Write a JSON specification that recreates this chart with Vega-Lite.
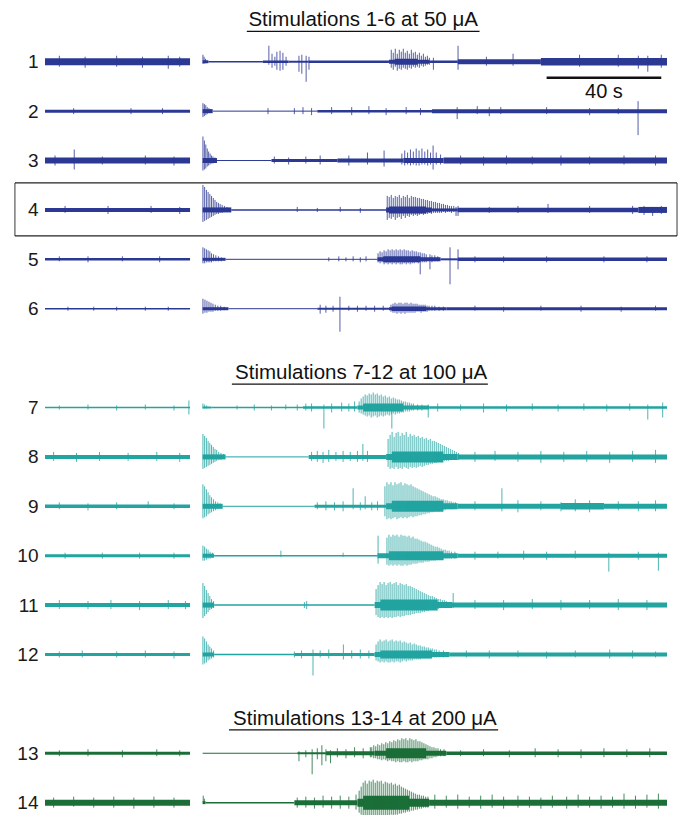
{
"$schema": "https://vega.github.io/schema/vega-lite/v6.json",
"width": 622, "height": 815,
"autosize": "none",
"padding": {"left": 45, "top": 0, "right": 11, "bottom": 0},
"background": "white",
"config": {"view": {"stroke": null}, "font": "Liberation Sans"},
"datasets": {
"noise": [
{"n":"1","t":-55,"t2":-4.4,"w":7},{"n":"1","t":0,"t2":2,"w":3},{"n":"1","t":2,"t2":21,"w":1.5},{"n":"1","t":21,"t2":30,"w":2.5},{"n":"1","t":30,"t2":37,"w":2},{"n":"1","t":37,"t2":65,"w":2.5},{"n":"1","t":65,"t2":79,"w":4},{"n":"1","t":67,"t2":75,"w":6},{"n":"1","t":79,"t2":89,"w":2.5},{"n":"1","t":89,"t2":118,"w":5},{"n":"1","t":118,"t2":162,"w":7.5},
{"n":"2","t":-55,"t2":-4.4,"w":3},{"n":"2","t":0,"t2":3.5,"w":4},{"n":"2","t":3.5,"t2":40,"w":1},{"n":"2","t":40,"t2":80,"w":2.5},{"n":"2","t":80,"t2":162,"w":4},
{"n":"3","t":-55,"t2":-4.4,"w":6},{"n":"3","t":0,"t2":5,"w":5},{"n":"3","t":5,"t2":24,"w":1},{"n":"3","t":24,"t2":47,"w":3},{"n":"3","t":47,"t2":70,"w":4},{"n":"3","t":70,"t2":84,"w":5},{"n":"3","t":84,"t2":162,"w":6},
{"n":"4","t":-55,"t2":-4.4,"w":4},{"n":"4","t":0,"t2":10,"w":5},{"n":"4","t":10,"t2":64,"w":1.5},{"n":"4","t":64,"t2":80,"w":5},{"n":"4","t":65,"t2":78,"w":7},{"n":"4","t":80,"t2":89,"w":3},{"n":"4","t":89,"t2":152,"w":4.5},{"n":"4","t":152,"t2":162,"w":6},
{"n":"5","t":-55,"t2":-4.4,"w":2.5},{"n":"5","t":0,"t2":8,"w":3},{"n":"5","t":8,"t2":61,"w":1},{"n":"5","t":61,"t2":83,"w":4},{"n":"5","t":63,"t2":76,"w":6},{"n":"5","t":83,"t2":89,"w":2},{"n":"5","t":89,"t2":162,"w":3.5},
{"n":"6","t":-55,"t2":-4.4,"w":1.5},{"n":"6","t":0,"t2":9,"w":3},{"n":"6","t":9,"t2":40,"w":1},{"n":"6","t":40,"t2":65,"w":2},{"n":"6","t":65,"t2":85,"w":3},{"n":"6","t":66,"t2":78,"w":4.5},{"n":"6","t":85,"t2":162,"w":3},
{"n":"7","t":-55,"t2":-4.4,"w":1.5},{"n":"7","t":0,"t2":3,"w":2},{"n":"7","t":3,"t2":35,"w":1.5},{"n":"7","t":35,"t2":54,"w":2.5},{"n":"7","t":54,"t2":79,"w":4},{"n":"7","t":56,"t2":70,"w":8},{"n":"7","t":79,"t2":162,"w":2.5},
{"n":"8","t":-55,"t2":-4.4,"w":4},{"n":"8","t":0,"t2":8,"w":5},{"n":"8","t":8,"t2":37,"w":1},{"n":"8","t":37,"t2":64,"w":4},{"n":"8","t":64,"t2":89,"w":6},{"n":"8","t":66,"t2":84,"w":11},{"n":"8","t":89,"t2":162,"w":5},
{"n":"9","t":-55,"t2":-4.4,"w":3.5},{"n":"9","t":0,"t2":7,"w":5},{"n":"9","t":7,"t2":39,"w":1},{"n":"9","t":39,"t2":64,"w":3},{"n":"9","t":64,"t2":89,"w":6},{"n":"9","t":66,"t2":84,"w":11},{"n":"9","t":89,"t2":125,"w":5},{"n":"9","t":125,"t2":140,"w":6.5},{"n":"9","t":140,"t2":162,"w":5},
{"n":"10","t":-55,"t2":-4.4,"w":3},{"n":"10","t":0,"t2":4,"w":4},{"n":"10","t":4,"t2":61,"w":1.5},{"n":"10","t":61,"t2":89,"w":5},{"n":"10","t":65,"t2":84,"w":9},{"n":"10","t":89,"t2":162,"w":4},
{"n":"11","t":-55,"t2":-4.4,"w":4},{"n":"11","t":0,"t2":4,"w":5},{"n":"11","t":4,"t2":60,"w":1.5},{"n":"11","t":60,"t2":87,"w":6},{"n":"11","t":62,"t2":82,"w":11},{"n":"11","t":87,"t2":162,"w":5},
{"n":"12","t":-55,"t2":-4.4,"w":3},{"n":"12","t":0,"t2":4,"w":4},{"n":"12","t":4,"t2":32,"w":1.5},{"n":"12","t":32,"t2":60,"w":3},{"n":"12","t":60,"t2":86,"w":5},{"n":"12","t":62,"t2":80,"w":8},{"n":"12","t":86,"t2":162,"w":4},
{"n":"13","t":-55,"t2":-4.4,"w":3},{"n":"13","t":0,"t2":33,"w":1},{"n":"13","t":33,"t2":43,"w":2},{"n":"13","t":43,"t2":60,"w":4},{"n":"13","t":60,"t2":85,"w":5},{"n":"13","t":64,"t2":78,"w":10},{"n":"13","t":85,"t2":162,"w":3.5},
{"n":"14","t":-55,"t2":-4.4,"w":6},{"n":"14","t":0,"t2":1,"w":3},{"n":"14","t":1,"t2":32,"w":1.5},{"n":"14","t":32,"t2":54,"w":5},{"n":"14","t":54,"t2":79,"w":8},{"n":"14","t":56,"t2":72,"w":14},{"n":"14","t":79,"t2":162,"w":6}
],
"spikes": [
{"n":"1","t":-50,"u":6,"d":5},{"n":"1","t":-41,"u":5,"d":6},{"n":"1","t":-30,"u":6,"d":5},{"n":"1","t":-21,"u":5,"d":6},{"n":"1","t":-12,"u":6,"d":7},{"n":"1","t":-8,"u":5,"d":5},
{"n":"1","t":0.1,"u":7,"d":2},{"n":"1","t":0.5,"u":5,"d":2},{"n":"1","t":1,"u":3,"d":1.5},
{"n":"1","t":23.1,"u":16,"d":3},{"n":"1","t":24.2,"u":8,"d":6},{"n":"1","t":25.2,"u":5,"d":4},{"n":"1","t":25.9,"u":10,"d":8},{"n":"1","t":27,"u":11,"d":9},{"n":"1","t":28,"u":9,"d":8},{"n":"1","t":29.1,"u":5,"d":4},
{"n":"1","t":33.6,"u":6,"d":10},{"n":"1","t":34.6,"u":7,"d":12},{"n":"1","t":36.1,"u":6,"d":20},{"n":"1","t":37.1,"u":5,"d":8},
{"n":"1","t":65.8,"u":12,"d":6},{"n":"1","t":66.5,"u":9,"d":8},{"n":"1","t":67.2,"u":13,"d":5},{"n":"1","t":67.9,"u":8,"d":9},{"n":"1","t":68.6,"u":12,"d":7},{"n":"1","t":69.3,"u":10,"d":8},{"n":"1","t":70,"u":13,"d":6},{"n":"1","t":70.7,"u":9,"d":7},{"n":"1","t":71.4,"u":11,"d":8},{"n":"1","t":72.1,"u":8,"d":6},{"n":"1","t":72.8,"u":12,"d":7},{"n":"1","t":73.5,"u":9,"d":5},{"n":"1","t":74.2,"u":10,"d":6},{"n":"1","t":74.9,"u":7,"d":5},{"n":"1","t":75.6,"u":9,"d":6},{"n":"1","t":76.3,"u":6,"d":4},{"n":"1","t":77,"u":8,"d":5},{"n":"1","t":77.7,"u":5,"d":4},{"n":"1","t":78.4,"u":6,"d":3},{"n":"1","t":79.1,"u":4,"d":3},{"n":"1","t":80.5,"u":4,"d":8},
{"n":"1","t":89.1,"u":16,"d":8},{"n":"1","t":99,"u":5,"d":4},{"n":"1","t":108.3,"u":8,"d":4},{"n":"1","t":131.5,"u":7,"d":5},{"n":"1","t":145,"u":7,"d":5},{"n":"1","t":152,"u":6,"d":7},{"n":"1","t":155.3,"u":6,"d":10},{"n":"1","t":160,"u":7,"d":6},
{"n":"2","t":-45,"u":3,"d":3},{"n":"2","t":-25,"u":3,"d":3},{"n":"2","t":-14,"u":3,"d":3},
{"n":"2","t":0.1,"u":8,"d":6},{"n":"2","t":0.6,"u":7,"d":5},{"n":"2","t":1.1,"u":6,"d":4},{"n":"2","t":1.6,"u":4,"d":3},{"n":"2","t":2.2,"u":3,"d":2},{"n":"2","t":2.8,"u":2,"d":2},
{"n":"2","t":22.8,"u":3,"d":3},{"n":"2","t":32,"u":3,"d":3},{"n":"2","t":35,"u":4,"d":3},{"n":"2","t":38,"u":3,"d":4},
{"n":"2","t":45,"u":4,"d":3},{"n":"2","t":52,"u":4,"d":4},{"n":"2","t":58,"u":5,"d":3},{"n":"2","t":64,"u":3,"d":4},{"n":"2","t":71,"u":4,"d":3},{"n":"2","t":76,"u":3,"d":4},
{"n":"2","t":88.8,"u":4,"d":8},{"n":"2","t":95.8,"u":5,"d":3},{"n":"2","t":100,"u":4,"d":5},{"n":"2","t":104,"u":4,"d":3},{"n":"2","t":120,"u":4,"d":3},{"n":"2","t":135,"u":3,"d":4},{"n":"2","t":145,"u":3,"d":3},{"n":"2","t":151.9,"u":10,"d":24},
{"n":"3","t":-51.5,"u":5,"d":5},{"n":"3","t":-44.8,"u":11,"d":9},{"n":"3","t":-35,"u":4,"d":4},{"n":"3","t":-20,"u":5,"d":4},{"n":"3","t":-10,"u":4,"d":5},
{"n":"3","t":0.1,"u":24,"d":10},{"n":"3","t":0.6,"u":20,"d":9},{"n":"3","t":1.1,"u":16,"d":8},{"n":"3","t":1.6,"u":12,"d":6},{"n":"3","t":2.1,"u":9,"d":5},{"n":"3","t":2.6,"u":7,"d":4},{"n":"3","t":3.1,"u":5,"d":3},{"n":"3","t":3.6,"u":4,"d":3},{"n":"3","t":4.3,"u":3,"d":2},
{"n":"3","t":25,"u":4,"d":3},{"n":"3","t":30,"u":3,"d":4},{"n":"3","t":36,"u":4,"d":3},{"n":"3","t":41,"u":5,"d":4},
{"n":"3","t":51,"u":5,"d":5},{"n":"3","t":57.5,"u":8,"d":4},{"n":"3","t":63.3,"u":10,"d":6},
{"n":"3","t":69.5,"u":7,"d":4},{"n":"3","t":70.5,"u":10,"d":5},{"n":"3","t":71.5,"u":8,"d":4},{"n":"3","t":72.5,"u":11,"d":5},{"n":"3","t":73.5,"u":9,"d":4},{"n":"3","t":74.5,"u":12,"d":5},{"n":"3","t":75.5,"u":10,"d":5},{"n":"3","t":76.5,"u":12,"d":4},{"n":"3","t":77.5,"u":9,"d":4},{"n":"3","t":78.5,"u":11,"d":5},{"n":"3","t":79.5,"u":8,"d":4},{"n":"3","t":80.4,"u":15,"d":9},{"n":"3","t":81.5,"u":8,"d":4},{"n":"3","t":83,"u":6,"d":4},
{"n":"3","t":90,"u":5,"d":4},{"n":"3","t":98,"u":4,"d":5},{"n":"3","t":106,"u":5,"d":4},{"n":"3","t":115,"u":4,"d":4},{"n":"3","t":125,"u":5,"d":5},{"n":"3","t":135,"u":4,"d":4},{"n":"3","t":147,"u":5,"d":4},{"n":"3","t":158,"u":5,"d":5},
{"n":"4","t":-48,"u":4,"d":3},{"n":"4","t":-33,"u":4,"d":4},{"n":"4","t":-18,"u":4,"d":3},{"n":"4","t":-8,"u":3,"d":4},
{"n":"4","t":0.1,"u":25,"d":12},{"n":"4","t":0.7,"u":23,"d":11},{"n":"4","t":1.3,"u":20,"d":10},{"n":"4","t":1.9,"u":18,"d":9},{"n":"4","t":2.5,"u":16,"d":8},{"n":"4","t":3.1,"u":14,"d":7},{"n":"4","t":3.7,"u":12,"d":6},{"n":"4","t":4.3,"u":10,"d":5},{"n":"4","t":4.9,"u":8,"d":4},{"n":"4","t":5.5,"u":7,"d":4},{"n":"4","t":6.1,"u":6,"d":3},{"n":"4","t":6.8,"u":5,"d":3},{"n":"4","t":7.6,"u":4,"d":2},{"n":"4","t":8.5,"u":3,"d":2},{"n":"4","t":9.5,"u":2,"d":2},
{"n":"4","t":33,"u":3,"d":2},{"n":"4","t":40,"u":2,"d":2},{"n":"4","t":48,"u":3,"d":2},{"n":"4","t":55,"u":2,"d":3},
{"n":"4","t":64.4,"u":14,"d":10},{"n":"4","t":65.1,"u":13,"d":8},{"n":"4","t":65.8,"u":15,"d":9},{"n":"4","t":66.5,"u":12,"d":7},{"n":"4","t":67.2,"u":14,"d":10},{"n":"4","t":67.9,"u":13,"d":8},{"n":"4","t":68.6,"u":15,"d":7},{"n":"4","t":69.3,"u":12,"d":9},{"n":"4","t":70,"u":14,"d":6},{"n":"4","t":70.7,"u":13,"d":8},{"n":"4","t":71.4,"u":15,"d":6},{"n":"4","t":72.1,"u":12,"d":7},{"n":"4","t":72.8,"u":14,"d":5},{"n":"4","t":73.5,"u":13,"d":6},{"n":"4","t":74.2,"u":13,"d":5},{"n":"4","t":74.9,"u":12,"d":6},{"n":"4","t":75.6,"u":12,"d":5},{"n":"4","t":76.3,"u":11,"d":4},{"n":"4","t":77,"u":11,"d":5},{"n":"4","t":77.7,"u":10,"d":4},{"n":"4","t":78.4,"u":10,"d":4},{"n":"4","t":79.1,"u":9,"d":3},{"n":"4","t":79.8,"u":9,"d":4},{"n":"4","t":80.5,"u":8,"d":3},{"n":"4","t":81.2,"u":8,"d":3},{"n":"4","t":81.9,"u":7,"d":3},{"n":"4","t":82.6,"u":7,"d":3},{"n":"4","t":83.3,"u":6,"d":3},{"n":"4","t":84,"u":6,"d":2},{"n":"4","t":84.7,"u":5,"d":3},{"n":"4","t":85.4,"u":5,"d":2},{"n":"4","t":86.1,"u":4,"d":2},{"n":"4","t":86.8,"u":4,"d":3},{"n":"4","t":87.6,"u":4,"d":2},{"n":"4","t":88.4,"u":3,"d":6},{"n":"4","t":89.1,"u":4,"d":6},
{"n":"4","t":100,"u":3,"d":3},{"n":"4","t":110,"u":4,"d":3},{"n":"4","t":120.5,"u":6,"d":3},{"n":"4","t":135,"u":4,"d":3},{"n":"4","t":150,"u":4,"d":4},{"n":"4","t":154,"u":4,"d":5},{"n":"4","t":157,"u":3,"d":6},{"n":"4","t":160,"u":4,"d":4},
{"n":"5","t":-50,"u":3,"d":2},{"n":"5","t":-40,"u":3,"d":3},{"n":"5","t":-28,"u":3,"d":2},{"n":"5","t":-15,"u":3,"d":3},
{"n":"5","t":0.1,"u":12,"d":4},{"n":"5","t":0.7,"u":11,"d":4},{"n":"5","t":1.3,"u":10,"d":3},{"n":"5","t":1.9,"u":9,"d":3},{"n":"5","t":2.5,"u":8,"d":3},{"n":"5","t":3.1,"u":6,"d":3},{"n":"5","t":3.8,"u":5,"d":2},{"n":"5","t":4.6,"u":4,"d":2},{"n":"5","t":5.5,"u":3,"d":2},{"n":"5","t":6.5,"u":2,"d":2},
{"n":"5","t":44,"u":2,"d":2},{"n":"5","t":47.5,"u":3,"d":2},{"n":"5","t":50,"u":2,"d":2},{"n":"5","t":52.5,"u":3,"d":2},{"n":"5","t":55,"u":2,"d":3},{"n":"5","t":57,"u":3,"d":2},
{"n":"5","t":61.2,"u":6,"d":3},{"n":"5","t":61.9,"u":8,"d":4},{"n":"5","t":62.6,"u":7,"d":3},{"n":"5","t":63.3,"u":9,"d":5},{"n":"5","t":64,"u":8,"d":4},{"n":"5","t":64.7,"u":10,"d":5},{"n":"5","t":65.4,"u":9,"d":4},{"n":"5","t":66.1,"u":10,"d":5},{"n":"5","t":66.8,"u":9,"d":4},{"n":"5","t":67.5,"u":10,"d":5},{"n":"5","t":68.2,"u":9,"d":4},{"n":"5","t":68.9,"u":10,"d":5},{"n":"5","t":69.6,"u":9,"d":5},{"n":"5","t":70.3,"u":10,"d":4},{"n":"5","t":71,"u":9,"d":5},{"n":"5","t":71.7,"u":9,"d":4},{"n":"5","t":72.4,"u":8,"d":5},{"n":"5","t":73.1,"u":9,"d":4},{"n":"5","t":73.8,"u":8,"d":4},{"n":"5","t":74.5,"u":8,"d":3},{"n":"5","t":75.2,"u":7,"d":4},{"n":"5","t":75.9,"u":7,"d":15},{"n":"5","t":76.6,"u":6,"d":3},{"n":"5","t":77.3,"u":6,"d":3},{"n":"5","t":78,"u":5,"d":3},{"n":"5","t":79.3,"u":5,"d":10},{"n":"5","t":80,"u":4,"d":3},{"n":"5","t":81,"u":4,"d":2},{"n":"5","t":82,"u":3,"d":2},
{"n":"5","t":86.3,"u":12,"d":25},{"n":"5","t":89.1,"u":10,"d":10},
{"n":"5","t":95,"u":3,"d":3},{"n":"5","t":105,"u":3,"d":3},{"n":"5","t":120,"u":3,"d":3},{"n":"5","t":140,"u":3,"d":3},{"n":"5","t":155,"u":3,"d":3},
{"n":"6","t":-47,"u":2,"d":2},{"n":"6","t":-38,"u":2,"d":2},{"n":"6","t":-30,"u":2,"d":2},{"n":"6","t":-20,"u":2,"d":2},{"n":"6","t":-12,"u":2,"d":2},
{"n":"6","t":0.1,"u":10,"d":5},{"n":"6","t":0.8,"u":9,"d":4},{"n":"6","t":1.5,"u":8,"d":4},{"n":"6","t":2.2,"u":7,"d":3},{"n":"6","t":2.9,"u":6,"d":3},{"n":"6","t":3.6,"u":5,"d":3},{"n":"6","t":4.4,"u":4,"d":2},{"n":"6","t":5.3,"u":3,"d":2},{"n":"6","t":6.3,"u":3,"d":2},{"n":"6","t":7.5,"u":2,"d":1.5},
{"n":"6","t":41,"u":4,"d":5},{"n":"6","t":43,"u":3,"d":4},{"n":"6","t":45.5,"u":3,"d":3},{"n":"6","t":47.9,"u":12,"d":23},
{"n":"6","t":51,"u":3,"d":2},{"n":"6","t":54,"u":3,"d":3},{"n":"6","t":57,"u":3,"d":2},{"n":"6","t":60,"u":3,"d":3},{"n":"6","t":63,"u":3,"d":2},
{"n":"6","t":65.7,"u":4,"d":3},{"n":"6","t":66.4,"u":5,"d":4},{"n":"6","t":67.1,"u":6,"d":4},{"n":"6","t":67.8,"u":5,"d":5},{"n":"6","t":68.5,"u":6,"d":4},{"n":"6","t":69.2,"u":6,"d":5},{"n":"6","t":69.9,"u":5,"d":4},{"n":"6","t":70.6,"u":6,"d":5},{"n":"6","t":71.3,"u":6,"d":4},{"n":"6","t":72,"u":5,"d":4},{"n":"6","t":72.7,"u":6,"d":4},{"n":"6","t":73.4,"u":5,"d":4},{"n":"6","t":74.1,"u":5,"d":4},{"n":"6","t":74.8,"u":5,"d":3},{"n":"6","t":75.5,"u":4,"d":3},{"n":"6","t":76.2,"u":4,"d":4},{"n":"6","t":76.9,"u":4,"d":3},{"n":"6","t":77.6,"u":4,"d":3},{"n":"6","t":78.3,"u":3,"d":3},{"n":"6","t":79,"u":3,"d":2},{"n":"6","t":80,"u":3,"d":2},{"n":"6","t":81,"u":3,"d":2},{"n":"6","t":82.5,"u":2,"d":2},{"n":"6","t":84,"u":2,"d":2},
{"n":"6","t":95,"u":3,"d":2},{"n":"6","t":105,"u":2,"d":3},{"n":"6","t":118,"u":3,"d":2},{"n":"6","t":132,"u":3,"d":3},{"n":"6","t":146,"u":2,"d":3},{"n":"6","t":158,"u":3,"d":2},
{"n":"7","t":-50,"u":2,"d":2},{"n":"7","t":-40,"u":3,"d":2},{"n":"7","t":-30,"u":2,"d":3},{"n":"7","t":-20,"u":3,"d":2},{"n":"7","t":-10,"u":2,"d":3},{"n":"7","t":-4.8,"u":7,"d":7},
{"n":"7","t":0.1,"u":4,"d":1},{"n":"7","t":0.7,"u":3,"d":1},{"n":"7","t":1.4,"u":2,"d":1},
{"n":"7","t":12,"u":2,"d":2},{"n":"7","t":18,"u":3,"d":3},{"n":"7","t":24,"u":2,"d":3},{"n":"7","t":29,"u":3,"d":2},{"n":"7","t":33,"u":3,"d":3},
{"n":"7","t":36,"u":4,"d":3},{"n":"7","t":38,"u":4,"d":4},{"n":"7","t":42.3,"u":3,"d":21},{"n":"7","t":45,"u":4,"d":5},{"n":"7","t":48.5,"u":5,"d":4},{"n":"7","t":51,"u":4,"d":4},{"n":"7","t":53,"u":6,"d":4},
{"n":"7","t":54.6,"u":6,"d":5},{"n":"7","t":55.3,"u":9,"d":6},{"n":"7","t":56,"u":11,"d":7},{"n":"7","t":56.7,"u":13,"d":8},{"n":"7","t":57.4,"u":12,"d":9},{"n":"7","t":58.1,"u":14,"d":8},{"n":"7","t":58.8,"u":13,"d":10},{"n":"7","t":59.5,"u":15,"d":9},{"n":"7","t":60.2,"u":13,"d":8},{"n":"7","t":60.9,"u":14,"d":10},{"n":"7","t":61.6,"u":12,"d":9},{"n":"7","t":62.3,"u":13,"d":8},{"n":"7","t":63,"u":11,"d":9},{"n":"7","t":63.7,"u":12,"d":8},{"n":"7","t":64.4,"u":10,"d":7},{"n":"7","t":65.1,"u":11,"d":8},{"n":"7","t":65.8,"u":9,"d":7},{"n":"7","t":66,"u":3,"d":21},{"n":"7","t":66.5,"u":10,"d":6},{"n":"7","t":67.2,"u":9,"d":7},{"n":"7","t":67.9,"u":8,"d":6},{"n":"7","t":68.6,"u":8,"d":6},{"n":"7","t":69.3,"u":7,"d":5},{"n":"7","t":70,"u":6,"d":5},{"n":"7","t":70.7,"u":6,"d":4},{"n":"7","t":71.4,"u":5,"d":4},{"n":"7","t":72.1,"u":5,"d":4},{"n":"7","t":72.8,"u":4,"d":3},{"n":"7","t":73.5,"u":4,"d":3},{"n":"7","t":75,"u":3,"d":3},{"n":"7","t":76.5,"u":3,"d":3},{"n":"7","t":78.7,"u":3,"d":10},
{"n":"7","t":82,"u":4,"d":4},{"n":"7","t":90,"u":3,"d":3},{"n":"7","t":98,"u":4,"d":5},{"n":"7","t":106,"u":3,"d":4},{"n":"7","t":115,"u":4,"d":3},{"n":"7","t":124,"u":3,"d":4},{"n":"7","t":133,"u":4,"d":3},{"n":"7","t":141,"u":3,"d":4},{"n":"7","t":149,"u":4,"d":3},{"n":"7","t":155.3,"u":3,"d":12},{"n":"7","t":160.5,"u":5,"d":10},
{"n":"8","t":-52,"u":5,"d":4},{"n":"8","t":-44,"u":4,"d":5},{"n":"8","t":-36,"u":5,"d":4},{"n":"8","t":-26,"u":4,"d":4},{"n":"8","t":-16,"u":5,"d":4},{"n":"8","t":-8,"u":4,"d":5},
{"n":"8","t":0.1,"u":23,"d":12},{"n":"8","t":0.7,"u":21,"d":11},{"n":"8","t":1.3,"u":19,"d":10},{"n":"8","t":1.9,"u":16,"d":9},{"n":"8","t":2.5,"u":14,"d":8},{"n":"8","t":3.1,"u":12,"d":7},{"n":"8","t":3.7,"u":10,"d":6},{"n":"8","t":4.3,"u":8,"d":5},{"n":"8","t":4.9,"u":7,"d":4},{"n":"8","t":5.6,"u":5,"d":3},{"n":"8","t":6.4,"u":4,"d":3},{"n":"8","t":7.3,"u":3,"d":2},
{"n":"8","t":38,"u":5,"d":4},{"n":"8","t":40,"u":6,"d":5},{"n":"8","t":42,"u":5,"d":6},{"n":"8","t":44,"u":7,"d":5},{"n":"8","t":46.5,"u":5,"d":4},{"n":"8","t":49,"u":6,"d":5},{"n":"8","t":51.5,"u":5,"d":4},{"n":"8","t":54,"u":6,"d":5},{"n":"8","t":55.9,"u":13,"d":4},{"n":"8","t":57.5,"u":6,"d":5},
{"n":"8","t":64.7,"u":18,"d":10},{"n":"8","t":65.4,"u":22,"d":12},{"n":"8","t":66.1,"u":25,"d":11},{"n":"8","t":66.8,"u":20,"d":12},{"n":"8","t":67.5,"u":24,"d":10},{"n":"8","t":68.2,"u":25,"d":12},{"n":"8","t":68.9,"u":21,"d":11},{"n":"8","t":69.6,"u":24,"d":12},{"n":"8","t":70.3,"u":22,"d":10},{"n":"8","t":71,"u":25,"d":11},{"n":"8","t":71.7,"u":20,"d":12},{"n":"8","t":72.4,"u":23,"d":10},{"n":"8","t":73.1,"u":21,"d":11},{"n":"8","t":73.8,"u":22,"d":10},{"n":"8","t":74.5,"u":20,"d":11},{"n":"8","t":75.2,"u":21,"d":10},{"n":"8","t":75.9,"u":19,"d":9},{"n":"8","t":76.6,"u":20,"d":10},{"n":"8","t":77.3,"u":18,"d":9},{"n":"8","t":78,"u":19,"d":8},{"n":"8","t":78.7,"u":17,"d":8},{"n":"8","t":79.4,"u":18,"d":7},{"n":"8","t":80.1,"u":16,"d":7},{"n":"8","t":80.8,"u":16,"d":6},{"n":"8","t":81.5,"u":15,"d":6},{"n":"8","t":82.2,"u":14,"d":5},{"n":"8","t":82.9,"u":13,"d":5},{"n":"8","t":83.6,"u":12,"d":5},{"n":"8","t":84.3,"u":11,"d":4},{"n":"8","t":85,"u":10,"d":4},{"n":"8","t":85.7,"u":9,"d":4},{"n":"8","t":86.4,"u":8,"d":3},{"n":"8","t":87.1,"u":7,"d":3},{"n":"8","t":87.8,"u":6,"d":3},{"n":"8","t":88.5,"u":5,"d":3},{"n":"8","t":89.3,"u":4,"d":3},
{"n":"8","t":95,"u":5,"d":5},{"n":"8","t":102,"u":6,"d":4},{"n":"8","t":110,"u":5,"d":5},{"n":"8","t":118,"u":6,"d":6},{"n":"8","t":126,"u":5,"d":5},{"n":"8","t":134,"u":6,"d":5},{"n":"8","t":142,"u":5,"d":6},{"n":"8","t":150,"u":6,"d":5},{"n":"8","t":158,"u":7,"d":6},
{"n":"9","t":-50,"u":4,"d":3},{"n":"9","t":-40,"u":3,"d":4},{"n":"9","t":-30,"u":4,"d":3},{"n":"9","t":-19,"u":5,"d":2},{"n":"9","t":-10,"u":3,"d":3},
{"n":"9","t":0.1,"u":22,"d":12},{"n":"9","t":0.7,"u":20,"d":11},{"n":"9","t":1.3,"u":17,"d":10},{"n":"9","t":1.9,"u":14,"d":8},{"n":"9","t":2.5,"u":11,"d":7},{"n":"9","t":3.1,"u":9,"d":6},{"n":"9","t":3.8,"u":7,"d":5},{"n":"9","t":4.5,"u":5,"d":4},{"n":"9","t":5.3,"u":4,"d":3},{"n":"9","t":6.1,"u":3,"d":2},
{"n":"9","t":40,"u":4,"d":3},{"n":"9","t":43,"u":5,"d":4},{"n":"9","t":46,"u":4,"d":4},{"n":"9","t":49,"u":5,"d":5},{"n":"9","t":52.5,"u":18,"d":3},{"n":"9","t":55,"u":4,"d":4},{"n":"9","t":56.7,"u":10,"d":3},{"n":"9","t":59,"u":4,"d":4},{"n":"9","t":61,"u":5,"d":4},
{"n":"9","t":63.6,"u":20,"d":10},{"n":"9","t":64.3,"u":24,"d":13},{"n":"9","t":65,"u":22,"d":12},{"n":"9","t":65.7,"u":24,"d":13},{"n":"9","t":66.4,"u":21,"d":12},{"n":"9","t":67.1,"u":24,"d":11},{"n":"9","t":67.8,"u":22,"d":13},{"n":"9","t":68.5,"u":23,"d":12},{"n":"9","t":69.2,"u":24,"d":11},{"n":"9","t":69.9,"u":21,"d":12},{"n":"9","t":70.6,"u":23,"d":11},{"n":"9","t":71.3,"u":22,"d":12},{"n":"9","t":72,"u":21,"d":11},{"n":"9","t":72.7,"u":22,"d":10},{"n":"9","t":73.4,"u":20,"d":11},{"n":"9","t":74.1,"u":19,"d":10},{"n":"9","t":74.8,"u":18,"d":10},{"n":"9","t":75.5,"u":17,"d":9},{"n":"9","t":76.2,"u":16,"d":9},{"n":"9","t":76.9,"u":15,"d":8},{"n":"9","t":77.6,"u":14,"d":8},{"n":"9","t":78.3,"u":13,"d":7},{"n":"9","t":79,"u":12,"d":7},{"n":"9","t":79.7,"u":11,"d":6},{"n":"9","t":80.4,"u":10,"d":6},{"n":"9","t":81.1,"u":10,"d":5},{"n":"9","t":81.8,"u":9,"d":5},{"n":"9","t":82.5,"u":8,"d":5},{"n":"9","t":83.2,"u":7,"d":4},{"n":"9","t":83.9,"u":7,"d":4},{"n":"9","t":84.6,"u":6,"d":4},{"n":"9","t":85.3,"u":6,"d":3},{"n":"9","t":86,"u":5,"d":3},{"n":"9","t":86.7,"u":5,"d":3},{"n":"9","t":87.4,"u":4,"d":3},{"n":"9","t":88.2,"u":4,"d":2},
{"n":"9","t":95,"u":5,"d":4},{"n":"9","t":104.4,"u":18,"d":5},{"n":"9","t":110,"u":6,"d":6},{"n":"9","t":118,"u":5,"d":4},{"n":"9","t":125,"u":4,"d":5},{"n":"9","t":130,"u":7,"d":5},{"n":"9","t":135,"u":6,"d":6},{"n":"9","t":145,"u":5,"d":4},{"n":"9","t":152,"u":5,"d":5},{"n":"9","t":158,"u":6,"d":5},
{"n":"10","t":-48,"u":3,"d":3},{"n":"10","t":-35,"u":3,"d":3},{"n":"10","t":-22,"u":3,"d":3},{"n":"10","t":-10,"u":3,"d":3},
{"n":"10","t":0.1,"u":10,"d":5},{"n":"10","t":0.7,"u":9,"d":5},{"n":"10","t":1.3,"u":7,"d":4},{"n":"10","t":1.9,"u":6,"d":3},{"n":"10","t":2.6,"u":4,"d":3},{"n":"10","t":3.4,"u":3,"d":2},
{"n":"10","t":27.3,"u":5,"d":1},{"n":"10","t":49,"u":3,"d":1},
{"n":"10","t":61.2,"u":20,"d":8},{"n":"10","t":64.3,"u":18,"d":9},{"n":"10","t":65,"u":21,"d":10},{"n":"10","t":65.7,"u":19,"d":9},{"n":"10","t":66.4,"u":21,"d":10},{"n":"10","t":67.1,"u":20,"d":9},{"n":"10","t":67.8,"u":21,"d":10},{"n":"10","t":68.5,"u":19,"d":9},{"n":"10","t":69.2,"u":21,"d":10},{"n":"10","t":69.9,"u":20,"d":10},{"n":"10","t":70.6,"u":20,"d":9},{"n":"10","t":71.3,"u":19,"d":10},{"n":"10","t":72,"u":20,"d":9},{"n":"10","t":72.7,"u":18,"d":9},{"n":"10","t":73.4,"u":19,"d":8},{"n":"10","t":74.1,"u":17,"d":8},{"n":"10","t":74.8,"u":17,"d":8},{"n":"10","t":75.5,"u":16,"d":7},{"n":"10","t":76.2,"u":15,"d":7},{"n":"10","t":76.9,"u":14,"d":7},{"n":"10","t":77.6,"u":14,"d":6},{"n":"10","t":78.3,"u":13,"d":6},{"n":"10","t":79,"u":12,"d":6},{"n":"10","t":79.7,"u":11,"d":5},{"n":"10","t":80.4,"u":10,"d":5},{"n":"10","t":81.1,"u":9,"d":5},{"n":"10","t":81.8,"u":9,"d":4},{"n":"10","t":82.5,"u":8,"d":4},{"n":"10","t":83.2,"u":7,"d":4},{"n":"10","t":83.9,"u":6,"d":4},{"n":"10","t":84.6,"u":6,"d":3},{"n":"10","t":85.3,"u":5,"d":3},{"n":"10","t":86,"u":5,"d":3},{"n":"10","t":86.8,"u":4,"d":3},{"n":"10","t":88,"u":4,"d":3},
{"n":"10","t":95,"u":4,"d":4},{"n":"10","t":103,"u":4,"d":3},{"n":"10","t":112,"u":5,"d":4},{"n":"10","t":120,"u":4,"d":4},{"n":"10","t":130,"u":5,"d":3},{"n":"10","t":141.7,"u":3,"d":16},{"n":"10","t":152,"u":4,"d":4},{"n":"10","t":159,"u":3,"d":15},
{"n":"11","t":-50,"u":5,"d":4},{"n":"11","t":-40,"u":4,"d":4},{"n":"11","t":-32,"u":5,"d":4},{"n":"11","t":-22,"u":4,"d":5},{"n":"11","t":-12,"u":5,"d":4},{"n":"11","t":-6,"u":4,"d":4},
{"n":"11","t":0.1,"u":22,"d":13},{"n":"11","t":0.7,"u":19,"d":11},{"n":"11","t":1.3,"u":15,"d":9},{"n":"11","t":1.9,"u":12,"d":7},{"n":"11","t":2.5,"u":9,"d":5},{"n":"11","t":3.1,"u":6,"d":4},{"n":"11","t":3.8,"u":4,"d":3},
{"n":"11","t":35.5,"u":3,"d":3},{"n":"11","t":36.3,"u":4,"d":4},
{"n":"11","t":60.5,"u":16,"d":10},{"n":"11","t":61.2,"u":20,"d":12},{"n":"11","t":61.9,"u":23,"d":13},{"n":"11","t":62.6,"u":21,"d":12},{"n":"11","t":63.3,"u":23,"d":13},{"n":"11","t":64,"u":20,"d":12},{"n":"11","t":64.7,"u":22,"d":13},{"n":"11","t":65.4,"u":23,"d":12},{"n":"11","t":66.1,"u":21,"d":13},{"n":"11","t":66.8,"u":22,"d":12},{"n":"11","t":67.5,"u":23,"d":12},{"n":"11","t":68.2,"u":20,"d":11},{"n":"11","t":68.9,"u":22,"d":12},{"n":"11","t":69.6,"u":21,"d":11},{"n":"11","t":70.3,"u":20,"d":11},{"n":"11","t":71,"u":21,"d":10},{"n":"11","t":71.7,"u":19,"d":10},{"n":"11","t":72.4,"u":19,"d":10},{"n":"11","t":73.1,"u":18,"d":9},{"n":"11","t":73.8,"u":17,"d":9},{"n":"11","t":74.5,"u":16,"d":8},{"n":"11","t":75.2,"u":15,"d":8},{"n":"11","t":75.9,"u":14,"d":8},{"n":"11","t":76.6,"u":13,"d":7},{"n":"11","t":77.3,"u":12,"d":7},{"n":"11","t":78,"u":11,"d":6},{"n":"11","t":78.7,"u":10,"d":6},{"n":"11","t":79.4,"u":9,"d":5},{"n":"11","t":80.1,"u":9,"d":5},{"n":"11","t":80.8,"u":8,"d":4},{"n":"11","t":81.5,"u":7,"d":4},{"n":"11","t":82.2,"u":6,"d":4},{"n":"11","t":82.9,"u":6,"d":3},{"n":"11","t":83.6,"u":5,"d":3},{"n":"11","t":84.3,"u":5,"d":3},{"n":"11","t":85,"u":4,"d":3},{"n":"11","t":87.4,"u":12,"d":3},
{"n":"11","t":95,"u":5,"d":4},{"n":"11","t":105,"u":5,"d":5},{"n":"11","t":115,"u":6,"d":4},{"n":"11","t":125,"u":5,"d":5},{"n":"11","t":135,"u":5,"d":4},{"n":"11","t":145,"u":6,"d":5},{"n":"11","t":155,"u":5,"d":5},
{"n":"12","t":-50,"u":3,"d":3},{"n":"12","t":-42,"u":4,"d":3},{"n":"12","t":-30,"u":3,"d":3},{"n":"12","t":-20,"u":4,"d":3},{"n":"12","t":-10,"u":3,"d":4},
{"n":"12","t":0.1,"u":18,"d":10},{"n":"12","t":0.7,"u":16,"d":9},{"n":"12","t":1.3,"u":13,"d":8},{"n":"12","t":1.9,"u":10,"d":6},{"n":"12","t":2.5,"u":8,"d":5},{"n":"12","t":3.1,"u":6,"d":4},{"n":"12","t":3.8,"u":4,"d":3},
{"n":"12","t":32,"u":3,"d":3},{"n":"12","t":34.5,"u":4,"d":4},{"n":"12","t":38.5,"u":5,"d":21},{"n":"12","t":41,"u":4,"d":3},{"n":"12","t":44,"u":5,"d":4},{"n":"12","t":49.1,"u":10,"d":5},{"n":"12","t":52,"u":4,"d":4},{"n":"12","t":55,"u":5,"d":4},{"n":"12","t":58,"u":4,"d":4},
{"n":"12","t":60.5,"u":10,"d":6},{"n":"12","t":61.2,"u":13,"d":7},{"n":"12","t":61.9,"u":15,"d":8},{"n":"12","t":62.6,"u":13,"d":7},{"n":"12","t":63.3,"u":14,"d":8},{"n":"12","t":64,"u":15,"d":7},{"n":"12","t":64.7,"u":13,"d":8},{"n":"12","t":65.4,"u":14,"d":8},{"n":"12","t":66.1,"u":15,"d":7},{"n":"12","t":66.8,"u":13,"d":8},{"n":"12","t":67.5,"u":14,"d":7},{"n":"12","t":68.2,"u":13,"d":7},{"n":"12","t":68.9,"u":14,"d":8},{"n":"12","t":69.6,"u":12,"d":7},{"n":"12","t":70.3,"u":13,"d":6},{"n":"12","t":71,"u":12,"d":7},{"n":"12","t":71.7,"u":11,"d":6},{"n":"12","t":72.4,"u":12,"d":6},{"n":"12","t":73.1,"u":10,"d":6},{"n":"12","t":73.8,"u":11,"d":5},{"n":"12","t":74.5,"u":10,"d":5},{"n":"12","t":75.2,"u":9,"d":5},{"n":"12","t":75.9,"u":9,"d":5},{"n":"12","t":76.6,"u":8,"d":4},{"n":"12","t":77.3,"u":8,"d":4},{"n":"12","t":78,"u":7,"d":4},{"n":"12","t":78.7,"u":7,"d":4},{"n":"12","t":79.4,"u":6,"d":4},{"n":"12","t":80.1,"u":6,"d":3},{"n":"12","t":80.8,"u":5,"d":3},{"n":"12","t":81.5,"u":5,"d":3},{"n":"12","t":82.5,"u":4,"d":3},{"n":"12","t":84,"u":4,"d":3},
{"n":"12","t":92,"u":4,"d":3},{"n":"12","t":100,"u":4,"d":4},{"n":"12","t":110,"u":4,"d":3},{"n":"12","t":120,"u":3,"d":4},{"n":"12","t":130,"u":4,"d":3},{"n":"12","t":142,"u":5,"d":4},{"n":"12","t":150,"u":4,"d":4},{"n":"12","t":158,"u":3,"d":3},
{"n":"13","t":-50,"u":3,"d":3},{"n":"13","t":-40,"u":4,"d":3},{"n":"13","t":-28,"u":3,"d":4},{"n":"13","t":-16,"u":4,"d":3},{"n":"13","t":-8,"u":3,"d":3},
{"n":"13","t":33.6,"u":2,"d":8},{"n":"13","t":36,"u":3,"d":4},{"n":"13","t":38.2,"u":4,"d":21},{"n":"13","t":40,"u":5,"d":6},{"n":"13","t":41.6,"u":8,"d":12},{"n":"13","t":43,"u":4,"d":8},{"n":"13","t":44.6,"u":3,"d":10},
{"n":"13","t":47,"u":5,"d":4},{"n":"13","t":50,"u":4,"d":5},{"n":"13","t":53,"u":6,"d":4},{"n":"13","t":56,"u":5,"d":5},{"n":"13","t":58.5,"u":6,"d":4},
{"n":"13","t":59,"u":6,"d":4},{"n":"13","t":59.7,"u":8,"d":5},{"n":"13","t":60.4,"u":7,"d":5},{"n":"13","t":61.1,"u":9,"d":6},{"n":"13","t":61.8,"u":8,"d":6},{"n":"13","t":62.5,"u":10,"d":7},{"n":"13","t":63.2,"u":9,"d":6},{"n":"13","t":63.9,"u":11,"d":7},{"n":"13","t":64.6,"u":10,"d":8},{"n":"13","t":65.3,"u":12,"d":7},{"n":"13","t":66,"u":11,"d":8},{"n":"13","t":66.7,"u":13,"d":8},{"n":"13","t":67.4,"u":12,"d":9},{"n":"13","t":68.1,"u":14,"d":8},{"n":"13","t":68.8,"u":13,"d":9},{"n":"13","t":69.5,"u":15,"d":9},{"n":"13","t":70.2,"u":14,"d":8},{"n":"13","t":70.9,"u":15,"d":9},{"n":"13","t":71.6,"u":13,"d":9},{"n":"13","t":72.3,"u":15,"d":8},{"n":"13","t":73,"u":14,"d":9},{"n":"13","t":73.7,"u":13,"d":8},{"n":"13","t":74.4,"u":14,"d":8},{"n":"13","t":75.1,"u":12,"d":8},{"n":"13","t":75.8,"u":12,"d":7},{"n":"13","t":76.5,"u":11,"d":7},{"n":"13","t":77.2,"u":10,"d":6},{"n":"13","t":77.9,"u":9,"d":6},{"n":"13","t":78.6,"u":8,"d":6},{"n":"13","t":79.3,"u":7,"d":5},{"n":"13","t":80,"u":6,"d":5},{"n":"13","t":80.7,"u":6,"d":4},{"n":"13","t":81.4,"u":5,"d":4},{"n":"13","t":82.1,"u":5,"d":3},{"n":"13","t":83,"u":4,"d":3},{"n":"13","t":84.2,"u":4,"d":3},
{"n":"13","t":90,"u":3,"d":3},{"n":"13","t":98,"u":4,"d":3},{"n":"13","t":107,"u":3,"d":4},{"n":"13","t":116,"u":5,"d":4},{"n":"13","t":124,"u":4,"d":4},{"n":"13","t":132,"u":4,"d":5},{"n":"13","t":140,"u":5,"d":4},{"n":"13","t":148,"u":4,"d":4},{"n":"13","t":156,"u":5,"d":4},
{"n":"14","t":-52,"u":5,"d":5},{"n":"14","t":-45,"u":6,"d":4},{"n":"14","t":-38,"u":5,"d":5},{"n":"14","t":-31,"u":6,"d":5},{"n":"14","t":-24,"u":5,"d":6},{"n":"14","t":-17,"u":6,"d":5},{"n":"14","t":-10,"u":5,"d":5},
{"n":"14","t":0.2,"u":7,"d":1},{"n":"14","t":0.6,"u":4,"d":1},
{"n":"14","t":33,"u":5,"d":5},{"n":"14","t":36,"u":6,"d":5},{"n":"14","t":39,"u":5,"d":6},{"n":"14","t":42,"u":7,"d":5},{"n":"14","t":45,"u":6,"d":6},{"n":"14","t":48,"u":7,"d":6},{"n":"14","t":51,"u":6,"d":6},{"n":"14","t":53.5,"u":8,"d":7},
{"n":"14","t":54.6,"u":12,"d":10},{"n":"14","t":55.3,"u":16,"d":12},{"n":"14","t":56,"u":20,"d":13},{"n":"14","t":56.7,"u":22,"d":14},{"n":"14","t":57.4,"u":19,"d":13},{"n":"14","t":58.1,"u":22,"d":14},{"n":"14","t":58.8,"u":21,"d":13},{"n":"14","t":59.5,"u":23,"d":14},{"n":"14","t":60.2,"u":20,"d":14},{"n":"14","t":60.9,"u":22,"d":13},{"n":"14","t":61.6,"u":21,"d":14},{"n":"14","t":62.3,"u":22,"d":13},{"n":"14","t":63,"u":19,"d":14},{"n":"14","t":63.7,"u":21,"d":13},{"n":"14","t":64.4,"u":20,"d":14},{"n":"14","t":65.1,"u":19,"d":13},{"n":"14","t":65.8,"u":20,"d":12},{"n":"14","t":66.5,"u":18,"d":13},{"n":"14","t":67.2,"u":19,"d":12},{"n":"14","t":67.9,"u":17,"d":12},{"n":"14","t":68.6,"u":18,"d":11},{"n":"14","t":69.3,"u":16,"d":11},{"n":"14","t":70,"u":15,"d":10},{"n":"14","t":70.7,"u":14,"d":10},{"n":"14","t":71.4,"u":13,"d":9},{"n":"14","t":72.1,"u":12,"d":9},{"n":"14","t":72.8,"u":11,"d":8},{"n":"14","t":73.5,"u":10,"d":8},{"n":"14","t":74.2,"u":9,"d":7},{"n":"14","t":74.9,"u":8,"d":7},{"n":"14","t":75.6,"u":8,"d":6},{"n":"14","t":76.3,"u":7,"d":6},{"n":"14","t":77,"u":7,"d":5},{"n":"14","t":77.8,"u":6,"d":5},{"n":"14","t":78.6,"u":6,"d":5},
{"n":"14","t":81,"u":8,"d":6},{"n":"14","t":85,"u":7,"d":5},{"n":"14","t":89,"u":8,"d":6},{"n":"14","t":93,"u":6,"d":5},{"n":"14","t":97,"u":7,"d":6},{"n":"14","t":101,"u":8,"d":5},{"n":"14","t":105,"u":6,"d":6},{"n":"14","t":110,"u":7,"d":5},{"n":"14","t":114,"u":6,"d":5},{"n":"14","t":118,"u":5,"d":6},{"n":"14","t":122,"u":7,"d":5},{"n":"14","t":127,"u":6,"d":6},{"n":"14","t":131,"u":8,"d":5},{"n":"14","t":135,"u":6,"d":5},{"n":"14","t":139,"u":7,"d":6},{"n":"14","t":143,"u":6,"d":5},{"n":"14","t":147,"u":9,"d":6},{"n":"14","t":151,"u":7,"d":6},{"n":"14","t":155,"u":8,"d":5},{"n":"14","t":159,"u":9,"d":6}
],
"titles": [
{"n":"T1","t":56,"a":15.4,"b":96.6,"label":"Stimulations 1-6 at 50 μA"},
{"n":"T2","t":55.3,"a":10.2,"b":99.5,"label":"Stimulations 7-12 at 100 μA"},
{"n":"T3","t":56.6,"a":9.2,"b":103.1,"label":"Stimulations 13-14 at 200 μA"}
],
"box": [{"n":"4","a":-65.5,"b":165.5}],
"bar": [{"n":"1","a":120,"b":160,"t":140,"label":"40 s"}]
},
"encoding": {
"x": {"field":"t","type":"quantitative","scale":{"domain":[-55,162],"nice":false,"zero":false},"axis":null},
"y": {"field":"n","type":"ordinal","scale":{"type":"point","padding":0.25,"domain":["T1","1","2","3","4","5","6","T2","7","8","9","10","11","12","T3","13","14"]},
"axis":{"title":null,"domain":false,"ticks":false,"grid":false,"labelFontSize":19,"labelColor":"#1a1a1a","labelPadding":7,"labelFont":"Liberation Sans","labelExpr":"slice(datum.value,0,1)=='T' ? '' : datum.value"}}
},
"layer": [
{"data":{"name":"noise"},"mark":{"type":"rule","strokeCap":"butt"},
"encoding":{"x2":{"field":"t2"},
"strokeWidth":{"field":"w","type":"quantitative","scale":{"domain":[0,20],"range":[0,20]},"legend":null},
"color":{"field":"n","type":"nominal","scale":{"domain":["1","2","3","4","5","6","7","8","9","10","11","12","13","14"],"range":["#2b3894","#2b3894","#2b3894","#2b3894","#2b3894","#2b3894","#22a4a1","#22a4a1","#22a4a1","#22a4a1","#22a4a1","#22a4a1","#1b6e38","#1b6e38"]},"legend":null}}},
{"data":{"name":"spikes"},"mark":{"type":"point","shape":"M0,0V-1","filled":false,"strokeWidth":1,"opacity":0.8},
"encoding":{"size":{"field":"u","type":"quantitative","scale":{"type":"pow","exponent":2,"domain":[0,100],"range":[0,40000]},"legend":null},
"color":{"field":"n","type":"nominal","legend":null}}},
{"data":{"name":"spikes"},"mark":{"type":"point","shape":"M0,0V1","filled":false,"strokeWidth":1,"opacity":0.8},
"encoding":{"size":{"field":"d","type":"quantitative","scale":{"type":"pow","exponent":2,"domain":[0,100],"range":[0,40000]},"legend":null},
"color":{"field":"n","type":"nominal","legend":null}}},
{"data":{"name":"box"},"mark":{"type":"rule","yOffset":-27,"color":"#222222","strokeWidth":1.3},"encoding":{"x":{"field":"a","type":"quantitative"},"x2":{"field":"b"}}},
{"data":{"name":"box"},"mark":{"type":"rule","yOffset":26,"color":"#222222","strokeWidth":1.3},"encoding":{"x":{"field":"a","type":"quantitative"},"x2":{"field":"b"}}},
{"data":{"name":"box"},"mark":{"type":"tick","orient":"vertical","size":53,"thickness":1.3,"yOffset":-0.5,"color":"#222222"},"encoding":{"x":{"field":"a","type":"quantitative"}}},
{"data":{"name":"box"},"mark":{"type":"tick","orient":"vertical","size":53,"thickness":1.3,"yOffset":-0.5,"color":"#222222"},"encoding":{"x":{"field":"b","type":"quantitative"}}},
{"data":{"name":"bar"},"mark":{"type":"rule","yOffset":16,"color":"#111111","strokeWidth":2.5},"encoding":{"x":{"field":"a","type":"quantitative"},"x2":{"field":"b"}}},
{"data":{"name":"bar"},"mark":{"type":"text","dy":36,"baseline":"alphabetic","align":"center","fontSize":20,"color":"#111111"},"encoding":{"text":{"field":"label"}}},
{"data":{"name":"titles"},"transform":[{"filter":"datum.n == 'T1'"}],"mark":{"type":"text","dy":14,"baseline":"alphabetic","align":"center","fontSize":20.5,"color":"#111111"},"encoding":{"text":{"field":"label"}}},
{"data":{"name":"titles"},"transform":[{"filter":"datum.n != 'T1'"}],"mark":{"type":"text","dy":21,"baseline":"alphabetic","align":"center","fontSize":20.5,"color":"#111111"},"encoding":{"text":{"field":"label"}}},
{"data":{"name":"titles"},"transform":[{"filter":"datum.n == 'T1'"}],"mark":{"type":"rule","yOffset":19,"color":"#111111","strokeWidth":1.3},"encoding":{"x":{"field":"a","type":"quantitative"},"x2":{"field":"b"}}},
{"data":{"name":"titles"},"transform":[{"filter":"datum.n != 'T1'"}],"mark":{"type":"rule","yOffset":26,"color":"#111111","strokeWidth":1.3},"encoding":{"x":{"field":"a","type":"quantitative"},"x2":{"field":"b"}}}
]
}
